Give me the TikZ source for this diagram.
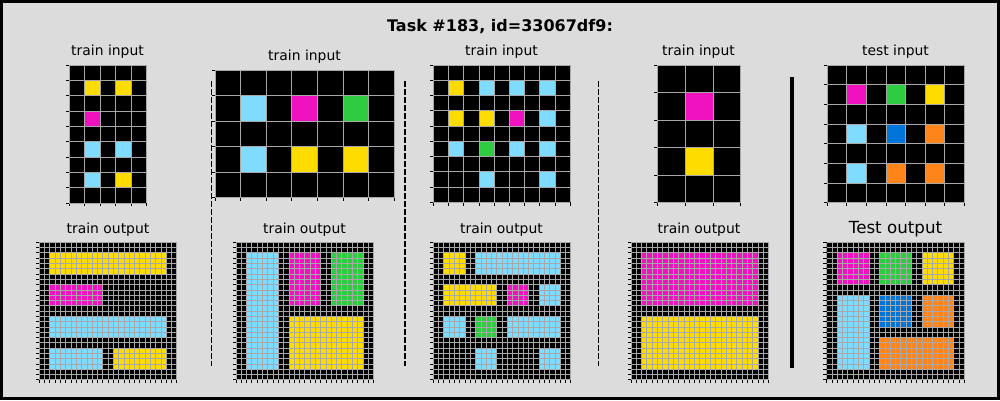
\documentclass[tikz,border=0pt]{standalone}
\usepackage{fontspec}
\setmainfont{DejaVu Sans}
\definecolor{bgc}{HTML}{DCDCDC}
\definecolor{ayel}{HTML}{FFDC00}
\definecolor{amag}{HTML}{F012BE}
\definecolor{alb}{HTML}{7FDBFF}
\definecolor{agrn}{HTML}{2ECC40}
\definecolor{ablu}{HTML}{0074D9}
\definecolor{aorg}{HTML}{FF851B}
\definecolor{glc}{HTML}{A8A8A8}
\tikzset{
  gridline/.style={draw=glc, line width=0.8pt},
  gtick/.style={draw=black, line width=0.8pt},
  sepdash/.style={draw=black, line width=1.8pt, dash pattern=on 5.5pt off 2.5pt},
  sepsolid/.style={draw=black, line width=4pt},
  lbl/.style={font=\fontsize{13.9}{16}\selectfont, inner sep=0pt},
}
\newcommand\arcgrid[7]{%
\begin{scope}[shift={(#1,#2)}]
 \pgfmathsetmacro\gw{#5*#3}\pgfmathsetmacro\gh{#6*#4}
 \fill[black] (0,0) rectangle (\gw,\gh);
 \foreach \c/\r/\w/\h/\col in {#7} {\fill[\col] ({\c*#3},{\r*#4}) rectangle ({(\c+\w)*#3},{(\r+\h)*#4});}
 \foreach \i in {0,...,#5} {\draw[gridline] ({\i*#3},0) -- ({\i*#3},\gh); \draw[gtick] ({\i*#3},\gh) -- ({\i*#3},\gh+3.5);}
 \foreach \j in {0,...,#6} {\draw[gridline] (0,{\j*#4}) -- (\gw,{\j*#4}); \draw[gtick] (0,{\j*#4}) -- (-3.5,{\j*#4});}
\end{scope}}
\begin{document}
\begin{tikzpicture}[x=1pt,y=-1pt]
\fill[bgc] (0,0) rectangle (1000,400);
\draw[black, line width=3pt] (1.5,1.5) rectangle (998.5,398.5);
\useasboundingbox (0,0) rectangle (1000,400);

\node[font=\fontsize{16}{19}\selectfont\bfseries] (title) at (500,27) {Task \#183, id=33067df9:};

% inputs
\arcgrid{69.3}{65}{15.4}{15.33}{5}{9}{1/1/1/1/ayel,3/1/1/1/ayel,1/3/1/1/amag,1/5/1/1/alb,3/5/1/1/alb,1/7/1/1/alb,3/7/1/1/ayel}
\arcgrid{215}{70}{25.6}{25.5}{7}{5}{1/1/1/1/alb,3/1/1/1/amag,5/1/1/1/agrn,1/3/1/1/alb,3/3/1/1/ayel,5/3/1/1/ayel}
\arcgrid{433.3}{65}{15.22}{15.25}{9}{9}{1/1/1/1/ayel,3/1/1/1/alb,5/1/1/1/alb,7/1/1/1/alb,1/3/1/1/ayel,3/3/1/1/ayel,5/3/1/1/amag,7/3/1/1/alb,1/5/1/1/alb,3/5/1/1/agrn,5/5/1/1/alb,7/5/1/1/alb,3/7/1/1/alb,7/7/1/1/alb}
\arcgrid{657.3}{65}{27.8}{27.5}{3}{5}{1/1/1/1/amag,1/3/1/1/ayel}
\arcgrid{827.3}{65}{19.57}{19.66}{7}{7}{1/1/1/1/amag,3/1/1/1/agrn,5/1/1/1/ayel,1/3/1/1/alb,3/3/1/1/ablu,5/3/1/1/aorg,1/5/1/1/alb,3/5/1/1/aorg,5/5/1/1/aorg}

% outputs
\arcgrid{39.3}{242.3}{5.29}{5.29}{26}{26}{2/2/22/4/ayel,2/8/10/4/amag,2/14/22/4/alb,2/20/10/4/alb,14/20/10/4/ayel}
\arcgrid{236}{242.3}{5.29}{5.29}{26}{26}{2/2/6/22/alb,10/2/6/10/amag,18/2/6/10/agrn,10/14/14/10/ayel}
\arcgrid{433.3}{242.3}{5.29}{5.29}{26}{26}{2/2/4/4/ayel,8/2/16/4/alb,2/8/10/4/ayel,14/8/4/4/amag,20/8/4/4/alb,2/14/4/4/alb,8/14/4/4/agrn,14/14/10/4/alb,8/20/4/4/alb,20/20/4/4/alb}
\arcgrid{631}{242.3}{5.29}{5.29}{26}{26}{2/2/22/10/amag,2/14/22/10/ayel}
\arcgrid{826.7}{242.3}{5.29}{5.29}{26}{26}{2/2/6/6/amag,10/2/6/6/agrn,18/2/6/6/ayel,2/10/6/14/alb,10/10/6/6/ablu,18/10/6/6/aorg,10/18/14/6/aorg}

% labels
\node[lbl] (l1) at (107.5,52) {train input};
\node[lbl] (l2) at (304.5,57) {train input};
\node[lbl] (l3) at (501.5,52) {train input};
\node[lbl] (l4) at (698.5,52) {train input};
\node[lbl] (l5) at (895.5,52) {test input};
\node[lbl] (o1) at (108,230) {train output};
\node[lbl] (o2) at (304.5,230) {train output};
\node[lbl] (o3) at (501.5,230) {train output};
\node[lbl] (o4) at (699,230) {train output};
\node[lbl, font=\fontsize{16.7}{19}\selectfont] (o5) at (895.5,229) {Test output};

% separators
\draw[sepdash] (211.5,81) -- (211.5,366);
\draw[sepdash] (405,81) -- (405,366);
\draw[sepdash] (598.5,81) -- (598.5,366);
\draw[sepsolid] (792,77) -- (792,368);
\end{tikzpicture}
\end{document}
